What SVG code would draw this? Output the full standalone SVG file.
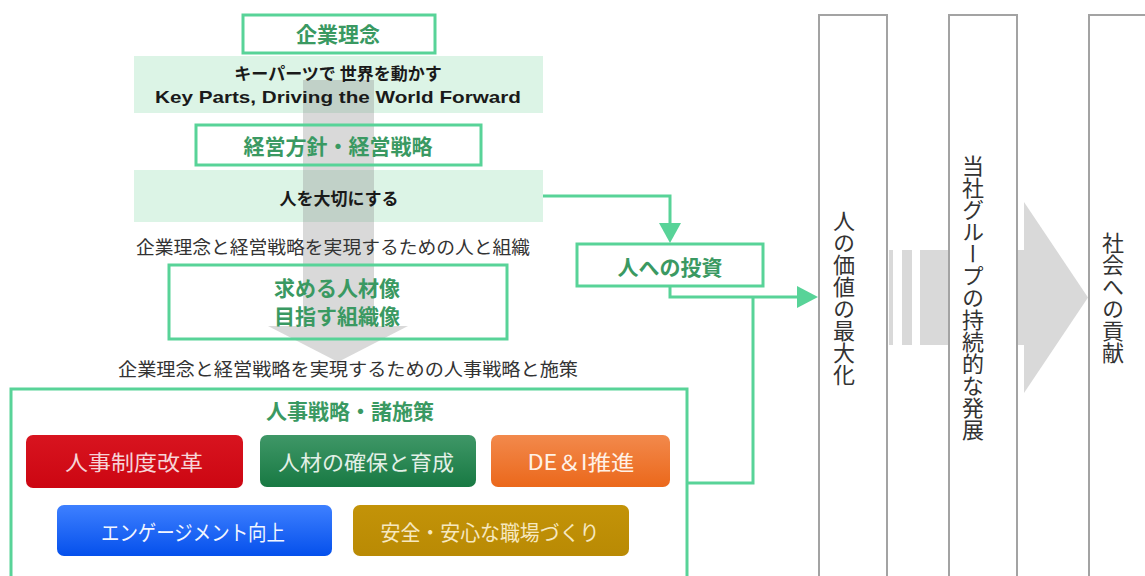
<svg xmlns="http://www.w3.org/2000/svg" width="1145" height="576" viewBox="0 0 1145 576">
<style>
.gbox{fill:none;stroke:#58d398;stroke-width:3}
.band{fill:#dcf4e6}
.col{fill:#fff;stroke:#a3a3a3;stroke-width:2}
.conn{fill:none;stroke:#58d398;stroke-width:3}
.ah{fill:#58d398}
.gt{font-family:"Noto Sans CJK JP",sans-serif;font-weight:700;font-size:21px;fill:#3a9962;text-anchor:middle;dominant-baseline:central}
.bt{font-family:"Noto Sans CJK JP",sans-serif;font-weight:700;font-size:17px;fill:#1a1a1a;text-anchor:middle;dominant-baseline:central}
.st{font-family:"Noto Sans CJK JP",sans-serif;font-size:18px;fill:#333;text-anchor:middle;dominant-baseline:central}
.btn{font-family:"Noto Sans CJK JP",sans-serif;font-size:21px;text-anchor:middle;dominant-baseline:central}
.vt{font-family:"Noto Sans CJK JP",sans-serif;font-size:22px;fill:#333;text-anchor:middle;writing-mode:vertical-rl;text-orientation:upright}
</style>
<defs>
<linearGradient id="gRed" x1="0" y1="0" x2="0" y2="1"><stop offset="0" stop-color="#d8141f"/><stop offset="1" stop-color="#cc0612"/></linearGradient>
<linearGradient id="gGreen" x1="0" y1="0" x2="0" y2="1"><stop offset="0" stop-color="#3f9767"/><stop offset="1" stop-color="#187943"/></linearGradient>
<linearGradient id="gOrange" x1="0" y1="0" x2="0" y2="1"><stop offset="0" stop-color="#f2894c"/><stop offset="1" stop-color="#eb681b"/></linearGradient>
<linearGradient id="gBlue" x1="0" y1="0" x2="0" y2="1"><stop offset="0" stop-color="#3e80ff"/><stop offset="1" stop-color="#0550ec"/></linearGradient>
<linearGradient id="gGold" x1="0" y1="0" x2="0" y2="1"><stop offset="0" stop-color="#c39308"/><stop offset="1" stop-color="#b98a04"/></linearGradient>
</defs>
<rect width="1145" height="576" fill="#fff"/>

<!-- right columns -->
<g id="col1"><rect class="col" x="819" y="15" width="68" height="600"/><text class="vt" x="844" y="298">人の価値の最大化</text></g>
<g id="flow-arrow">
<rect x="889" y="250" width="4" height="95" fill="#d9d9d9"/>
<rect x="902" y="250" width="10" height="95" fill="#d9d9d9"/>
<rect x="920" y="250" width="30" height="95" fill="#d9d9d9"/>
<rect x="1016" y="250" width="9" height="95" fill="#d9d9d9"/>
<polygon points="1024,202 1088,297.5 1024,393" fill="#d9d9d9"/>
</g>
<g id="col2"><rect class="col" x="949" y="15" width="68" height="600"/><text class="vt" x="973" y="298">当社グループの持続的な発展</text></g>
<g id="col3"><rect class="col" x="1089" y="15" width="100" height="600"/><text class="vt" x="1113" y="298">社会への貢献</text></g>

<!-- left stack -->
<g id="band1"><rect class="band" x="134" y="56" width="409" height="57"/></g>
<g id="band2"><rect class="band" x="134" y="170" width="409" height="52"/></g>
<g id="down-arrow"><polygon points="303,80 374,80 374,326 408,326 338,362 268,326 303,326" fill="#8c8c8c" fill-opacity="0.33"/></g>

<g id="rinen"><rect class="gbox" x="243" y="15" width="192" height="38"/><text class="gt" x="338" y="33">企業理念</text></g>
<g id="rinen-text">
<text class="bt" x="338" y="72" font-size="16px">キーパーツで 世界を動かす</text>
<text x="338" y="97" font-family="'Liberation Sans',Arial,sans-serif" font-weight="700" font-size="17px" fill="#1a1a1a" text-anchor="middle" dominant-baseline="central" textLength="366" lengthAdjust="spacingAndGlyphs">Key Parts, Driving the World Forward</text>
</g>
<g id="houshin"><rect class="gbox" x="196" y="125" width="285" height="40"/><text class="gt" x="338" y="145">経営方針・経営戦略</text></g>
<g id="hito-taisetsu"><text class="bt" x="339" y="197">人を大切にする</text></g>
<g id="label1"><text class="st" x="333" y="246" textLength="394" lengthAdjust="spacingAndGlyphs">企業理念と経営戦略を実現するための人と組織</text></g>
<g id="jinzai"><rect class="gbox" x="169" y="265" width="338" height="74"/>
<text class="gt" x="337" y="287" font-size="20px">求める人材像</text><text class="gt" x="337" y="315" font-size="20px">目指す組織像</text></g>
<g id="label2"><text class="st" x="348" y="368" textLength="460" lengthAdjust="spacingAndGlyphs">企業理念と経営戦略を実現するための人事戦略と施策</text></g>

<g id="jinji"><rect class="gbox" x="11" y="389" width="676" height="220"/><text class="gt" x="350" y="410">人事戦略・諸施策</text></g>
<g id="btn-seido"><rect x="26" y="435" width="217" height="53" rx="7" fill="url(#gRed)"/><text class="btn" x="134" y="461" fill="#f6d3d6" textLength="138" lengthAdjust="spacingAndGlyphs">人事制度改革</text></g>
<g id="btn-kakuho"><rect x="260" y="435" width="216" height="52" rx="7" fill="url(#gGreen)"/><text class="btn" x="366" y="461" fill="#e3f0e7" textLength="176" lengthAdjust="spacingAndGlyphs">人材の確保と育成</text></g>
<g id="btn-dei"><rect x="491" y="435" width="179" height="52" rx="7" fill="url(#gOrange)"/><text class="btn" x="581" y="461" fill="#fff1e6" textLength="107" lengthAdjust="spacingAndGlyphs">DE＆I推進</text></g>
<g id="btn-engage"><rect x="57" y="505" width="275" height="51" rx="7" fill="url(#gBlue)"/><text class="btn" x="193" y="531" fill="#f2f6ff" textLength="184" lengthAdjust="spacingAndGlyphs">エンゲージメント向上</text></g>
<g id="btn-anzen"><rect x="353" y="505" width="276" height="51" rx="7" fill="url(#gGold)"/><text class="btn" x="490" y="531" fill="#f6e8c0" textLength="219" lengthAdjust="spacingAndGlyphs">安全・安心な職場づくり</text></g>

<g id="toushi"><rect class="gbox" x="577" y="244" width="186" height="42"/><text class="gt" x="670" y="266">人への投資</text></g>

<g id="connectors">
<path class="conn" d="M543,196 H670 V225"/>
<polygon class="ah" points="659,223 681,223 670,243"/>
<path class="conn" d="M670,287 V297 H798"/>
<polygon class="ah" points="797,286 818,297 797,308"/>
<path class="conn" d="M687,483 H753 V297"/>
</g>
</svg>
